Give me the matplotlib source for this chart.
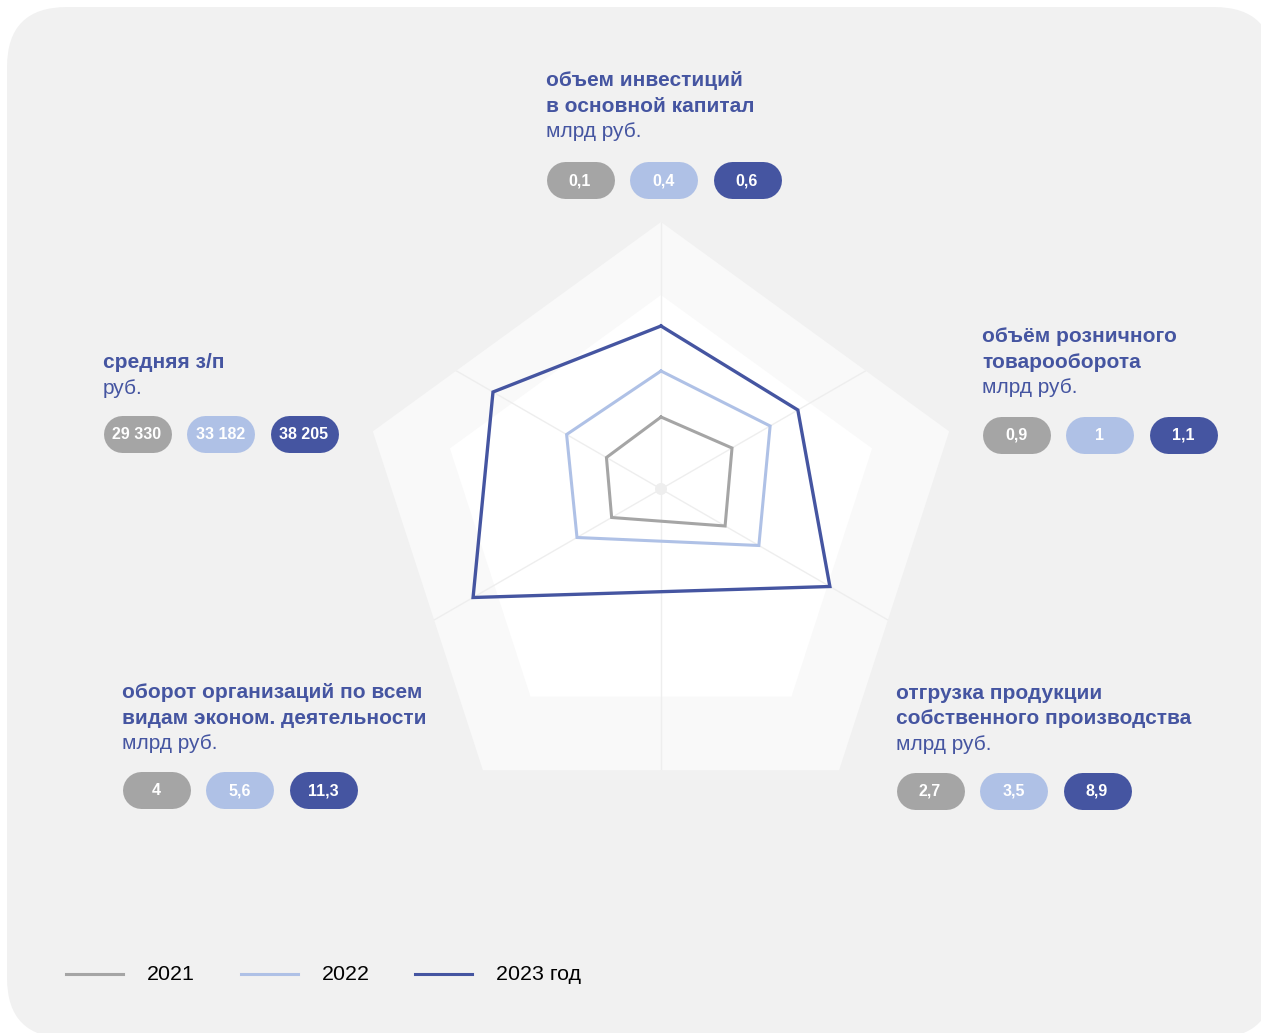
import numpy as np
import matplotlib.pyplot as plt
from matplotlib.patches import FancyBboxPatch, Polygon, Circle

plt.rcParams['font.family'] = ['Liberation Sans', 'DejaVu Sans']

# данные
years = ['2021', '2022', '2023 год']
colors = ['#a5a5a5', '#afc1e6', '#4555a1']

# оси радара: вверх, вправо-вверх, вправо-вниз, влево-вниз, влево-вверх
axis_angles = [90, 30, -30, 210, 150]
# радиальное положение точек на графике (условная шкала, пиксели)
radius_2021 = [72, 82, 74, 57, 63]
radius_2022 = [118, 126, 113, 97, 109]
radius_2023 = [163, 158, 195, 217, 194]
radii = [radius_2021, radius_2022, radius_2023]

titles = [
    ['объем инвестиций', 'в основной капитал'],
    ['объём розничного', 'товарооборота'],
    ['отгрузка продукции', 'собственного производства'],
    ['оборот организаций по всем', 'видам эконом. деятельности'],
    ['средняя з/п'],
]
units = ['млрд руб.', 'млрд руб.', 'млрд руб.', 'млрд руб.', 'руб.']
values_2021 = ['0,1', '0,9', '2,7', '4', '29 330']
values_2022 = ['0,4', '1', '3,5', '5,6', '33 182']
values_2023 = ['0,6', '1,1', '8,9', '11,3', '38 205']
values = [values_2021, values_2022, values_2023]

# положение подписей (левый край, базовая линия первой строки, центр плашек)
label_pos = [(546, 86, 180), (982, 342, 434.5), (896, 699, 790.5), (122, 698, 789.5), (103, 368, 433.5)]

W, H = 1261, 1033
fig = plt.figure(figsize=(W / 100, H / 100), dpi=100)
ax = fig.add_axes([0, 0, 1, 1])
ax.set_xlim(0, W)
ax.set_ylim(H, 0)
ax.axis('off')

# фон карточки
ax.add_patch(FancyBboxPatch((7, 7), 1267, 1031, boxstyle='round,pad=0,rounding_size=60',
                            facecolor='#f1f1f1', edgecolor='none', zorder=0))


def pentagon(cx, cy, r):
    a = np.deg2rad(90 + 72 * np.arange(5))
    return np.column_stack([cx + r * np.cos(a), cy - r * np.sin(a)])


outer = Polygon(pentagon(661, 525, 303), closed=True, facecolor='#f9f9f9', edgecolor='none', zorder=1)
ax.add_patch(outer)
ax.add_patch(Polygon(pentagon(661, 517, 222), closed=True, facecolor='#ffffff', edgecolor='none', zorder=1))

cx, cy = 661, 489
for ang in [90, 30, -30, -90, 210, 150]:
    t = np.deg2rad(ang)
    ln, = ax.plot([cx, cx + 450 * np.cos(t)], [cy, cy - 450 * np.sin(t)],
                  color='#eeeeee', lw=1, zorder=2)
    ln.set_clip_path(outer)
ax.add_patch(Circle((cx, cy), 6, facecolor='#eeeeee', edgecolor='none', zorder=2))

t = np.deg2rad(axis_angles)
for r, c, w in zip(radii, colors, [2.2, 2.2, 2.4]):
    r = np.array(r)
    xs = cx + r * np.cos(t)
    ys = cy - r * np.sin(t)
    ax.plot(np.append(xs, xs[0]), np.append(ys, ys[0]), color=c, lw=w,
            solid_joinstyle='miter', zorder=3)

# подписи осей и плашки со значениями
pill_w, pill_h = 68, 37
for i, (x0, y0, py) in enumerate(label_pos):
    y = y0
    for line in titles[i]:
        ax.text(x0, y, line, color='#4555a1', fontsize=15, fontweight='bold', va='baseline', ha='left')
        y += 25.5
    ax.text(x0, y, units[i], color='#4555a1', fontsize=15, va='baseline', ha='left')
    for k in range(3):
        px = x0 + k * 83.5
        ax.plot([px + pill_h / 2, px + pill_w - pill_h / 2], [py, py], color=colors[k],
                lw=pill_h * 0.72, solid_capstyle='round', zorder=4)
        ax.text(px + pill_w / 2, py + 1, values[k][i], color='white', fontsize=11.5, fontweight='bold',
                ha='center', va='center', zorder=5)

# легенда
leg_x = [66, 241, 415]
for k in range(3):
    ax.plot([leg_x[k], leg_x[k] + 57], [974, 974], color=colors[k], lw=2.2)
    ax.text(leg_x[k] + 81, 974, years[k], color='black', fontsize=15.4, va='center', ha='left')

fig.savefig('out.png', dpi=100, facecolor='white')
